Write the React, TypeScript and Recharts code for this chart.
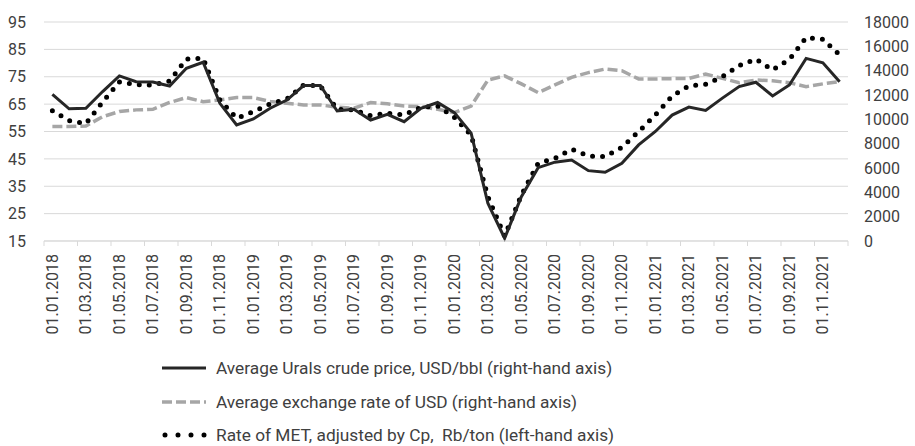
import React from "react";
import {
  LineChart,
  Line,
  XAxis,
  YAxis,
  CartesianGrid,
} from "recharts";

const FONT = "Roboto, 'Noto Sans', sans-serif";
const TEXT = "#404040";
const GRID = "#d9d9d9";

// 01.01.2018 .. 01.12.2021, monthly
const YEARS = [2018, 2019, 2020, 2021];
const MONTHS = ["01", "02", "03", "04", "05", "06", "07", "08", "09", "10", "11", "12"];
const dates = YEARS.flatMap((y) => MONTHS.map((m) => `01.${m}.${y}`));

// Average Urals crude price, USD/bbl
const urals = [
  68.6, 63.3, 63.5, 69.6, 75.3, 73.2, 73.1, 71.6, 78.1, 80.3, 65.3, 57.4,
  59.6, 63.5, 66.5, 71.8, 71.8, 62.5, 63.1, 59.2, 61.3, 58.6, 63.5, 65.6,
  61.9, 54.4, 28.8, 16.0, 31.2, 41.8, 43.8, 44.6, 40.7, 40.1, 43.4, 50.1,
  55.0, 61.0, 63.9, 62.7, 67.2, 71.4, 73.0, 68.0, 72.0, 81.7, 80.1, 73.2,
];

// Average exchange rate of USD
const usdRate = [
  56.8, 56.8, 57.0, 60.4, 62.3, 62.9, 63.1, 65.6, 67.4, 65.9, 66.5, 67.4,
  67.4, 66.0, 65.3, 64.7, 64.7, 63.9, 63.5, 65.6, 65.1, 64.3, 64.1, 63.1,
  61.9, 64.3, 73.8, 75.3, 72.4, 69.2, 72.0, 74.8, 76.5, 77.8, 77.2, 74.2,
  74.2, 74.3, 74.4, 76.0, 74.4, 72.8, 73.8, 73.5, 72.8, 71.4, 72.4, 73.2,
];

// Rate of MET adjusted by Cp, Rb/ton
const metRate = [
  10710, 9900, 9650, 11430, 13070, 12850, 12820, 13150, 14960, 15020, 11590, 10090,
  10630, 11260, 11670, 12820, 12740, 10830, 10770, 10300, 10500, 10360, 10990, 11100,
  10170, 8710, 3640, 400, 3780, 6390, 6800, 7540, 6990, 6930, 7700, 8990,
  10360, 11920, 12740, 12880, 13510, 14410, 14960, 14060, 14930, 16710, 16580, 15300,
];

const leftTicks = [15, 25, 35, 45, 55, 65, 75, 85, 95];
const rightTicks = [0, 2000, 4000, 6000, 8000, 10000, 12000, 14000, 16000, 18000];

const data = dates.map((date, i) => ({
  date,
  urals: urals[i],
  usd: usdRate[i],
  met: metRate[i],
}));

const W = 915;
const H = 446;
const LEFT_W = 44;
const RIGHT_W = 67;
const BAND = (W - LEFT_W - RIGHT_W) / dates.length;

const DateTick = (props: any) => {
  const { x, y, payload } = props;
  const last = payload.index === dates.length - 2;
  return (
    <g>
      <line x1={x - BAND / 2} y1={y - 8} x2={x - BAND / 2} y2={y - 3} stroke={GRID} />
      {last && (
        <line x1={x + BAND * 1.5} y1={y - 8} x2={x + BAND * 1.5} y2={y - 3} stroke={GRID} />
      )}
      <g transform={`translate(${x},${y + 5})`}>
        <text
          transform="rotate(-90)"
          textAnchor="end"
          dy="0.35em"
          fill={TEXT}
          fontSize={16}
          fontFamily={FONT}
        >
          {payload.value}
        </text>
      </g>
    </g>
  );
};

const legendItems = [
  { label: "Average Urals crude price, USD/bbl (right-hand axis)", kind: "solid" },
  { label: "Average exchange rate of USD (right-hand axis)", kind: "dash" },
  { label: "Rate of MET, adjusted by Cp,  Rb/ton (left-hand axis)", kind: "dot" },
];

const Sample = ({ kind }: { kind: string }) => (
  <svg width={46} height={12} style={{ marginRight: 9 }}>
    {kind === "solid" && <line x1={1} y1={6} x2={45} y2={6} stroke="#262626" strokeWidth={3} />}
    {kind === "dash" && (
      <line x1={1} y1={6} x2={45} y2={6} stroke="#a6a6a6" strokeWidth={3.5} strokeDasharray="10 4" />
    )}
    {kind === "dot" && (
      <line
        x1={4}
        y1={6}
        x2={44}
        y2={6}
        stroke="#000"
        strokeWidth={5}
        strokeDasharray="0 13"
        strokeLinecap="round"
      />
    )}
  </svg>
);

export default function App() {
  return (
    <div style={{ position: "absolute", left: 0, top: 0, width: W, height: H, background: "#fff" }}>
      <LineChart
        width={W}
        height={H}
        data={data}
        margin={{ top: 22, right: 0, left: 0, bottom: 110 }}
      >
        <CartesianGrid yAxisId="left" vertical={false} stroke={GRID} />
        <XAxis
          dataKey="date"
          scale="band"
          height={95}
          interval={1}
          tickLine={false}
          axisLine={{ stroke: GRID }}
          tick={<DateTick />}
        />
        <YAxis
          yAxisId="left"
          domain={[15, 95]}
          ticks={leftTicks}
          width={LEFT_W}
          axisLine={false}
          tickLine={false}
          tick={{ fill: TEXT, fontSize: 16, fontFamily: FONT, dx: -10 }}
        />
        <YAxis
          yAxisId="right"
          orientation="right"
          domain={[0, 18000]}
          ticks={rightTicks}
          width={RIGHT_W}
          axisLine={false}
          tickLine={false}
          tick={{ fill: TEXT, fontSize: 16, fontFamily: FONT, dx: 8, textAnchor: "start" }}
        />
        <Line
          yAxisId="left"
          dataKey="usd"
          stroke="#a6a6a6"
          strokeWidth={3.5}
          strokeDasharray="10 4"
          dot={false}
          isAnimationActive={false}
        />
        <Line
          yAxisId="right"
          dataKey="met"
          stroke="#000"
          strokeWidth={5}
          strokeDasharray="0 10"
          strokeLinecap="round"
          dot={false}
          isAnimationActive={false}
        />
        <Line
          yAxisId="left"
          dataKey="urals"
          stroke="#262626"
          strokeWidth={3}
          dot={false}
          isAnimationActive={false}
        />
      </LineChart>
      <div
        style={{
          position: "absolute",
          left: 161,
          top: 356,
          fontFamily: FONT,
          fontSize: 17.3,
          color: TEXT,
          whiteSpace: "pre",
        }}
      >
        {legendItems.map((it, i) => (
          <div
            key={it.label}
            style={{ display: "flex", alignItems: "center", height: 24, marginBottom: i === 0 ? 10 : 9 }}
          >
            <Sample kind={it.kind} />
            <span>{it.label}</span>
          </div>
        ))}
      </div>
    </div>
  );
}
